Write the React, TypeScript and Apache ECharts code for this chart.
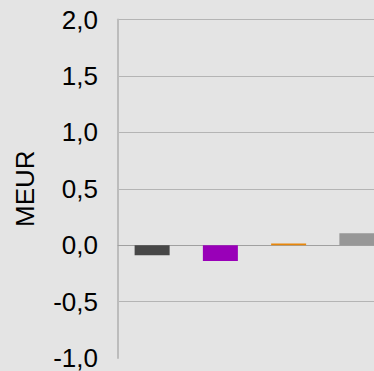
import React, { useEffect, useRef } from "react";
import * as echarts from "echarts";

const categories = ["A", "B", "C", "D"];
const values = [-0.09, -0.14, 0.015, 0.105];
const barColors = ["#474747", "#9900b8", "#e8860a", "#979797"];
const yTicks = { min: -1, max: 2, interval: 0.5 };
const axisName = "MEUR";

export default function App() {
  const ref = useRef<HTMLDivElement>(null);
  useEffect(() => {
    if (!ref.current) return;
    const chart = echarts.init(ref.current, null, { renderer: "svg" });
    chart.setOption({
      animation: false,
      backgroundColor: "#e4e4e4",
      grid: { left: 118, top: 19.5, bottom: 9.5, right: 0, containLabel: false },
      xAxis: {
        type: "category",
        data: categories,
        axisLabel: { show: false },
        axisTick: { show: false },
        axisLine: { show: true, onZero: true, lineStyle: { color: "#a0a0a0", width: 1 } },
        splitLine: { show: false },
      },
      yAxis: {
        type: "value",
        min: yTicks.min,
        max: yTicks.max,
        interval: yTicks.interval,
        name: axisName,
        nameLocation: "middle",
        nameGap: 80,
        nameRotate: 90,
        nameTextStyle: { fontFamily: "Liberation Sans, Arial, sans-serif", fontSize: 26, color: "#000" },
        axisLine: { show: true, onZero: false, lineStyle: { color: "#bcbcbc", width: 2 } },
        axisTick: { show: false },
        axisLabel: {
          margin: 20,
          fontFamily: "Liberation Sans, Arial, sans-serif",
          fontSize: 26,
          color: "#000",
          formatter: (v: number) => v.toFixed(1).replace(".", ","),
        },
        splitLine: {
          show: true,
          lineStyle: {
            color: ["rgba(0,0,0,0)", "#b4b4b4", "#b4b4b4", "#b4b4b4", "#b4b4b4", "#b4b4b4", "#b4b4b4"],
            width: 1,
          },
        },
      },
      series: [
        {
          type: "bar",
          barWidth: 35,
          data: values.map((v, i) => ({ value: v, itemStyle: { color: barColors[i] } })),
        },
      ],
    });
    return () => chart.dispose();
  }, []);
  return (
    <div
      ref={ref}
      style={{ position: "fixed", left: 0, top: 0, width: 391, height: 371 }}
    />
  );
}
